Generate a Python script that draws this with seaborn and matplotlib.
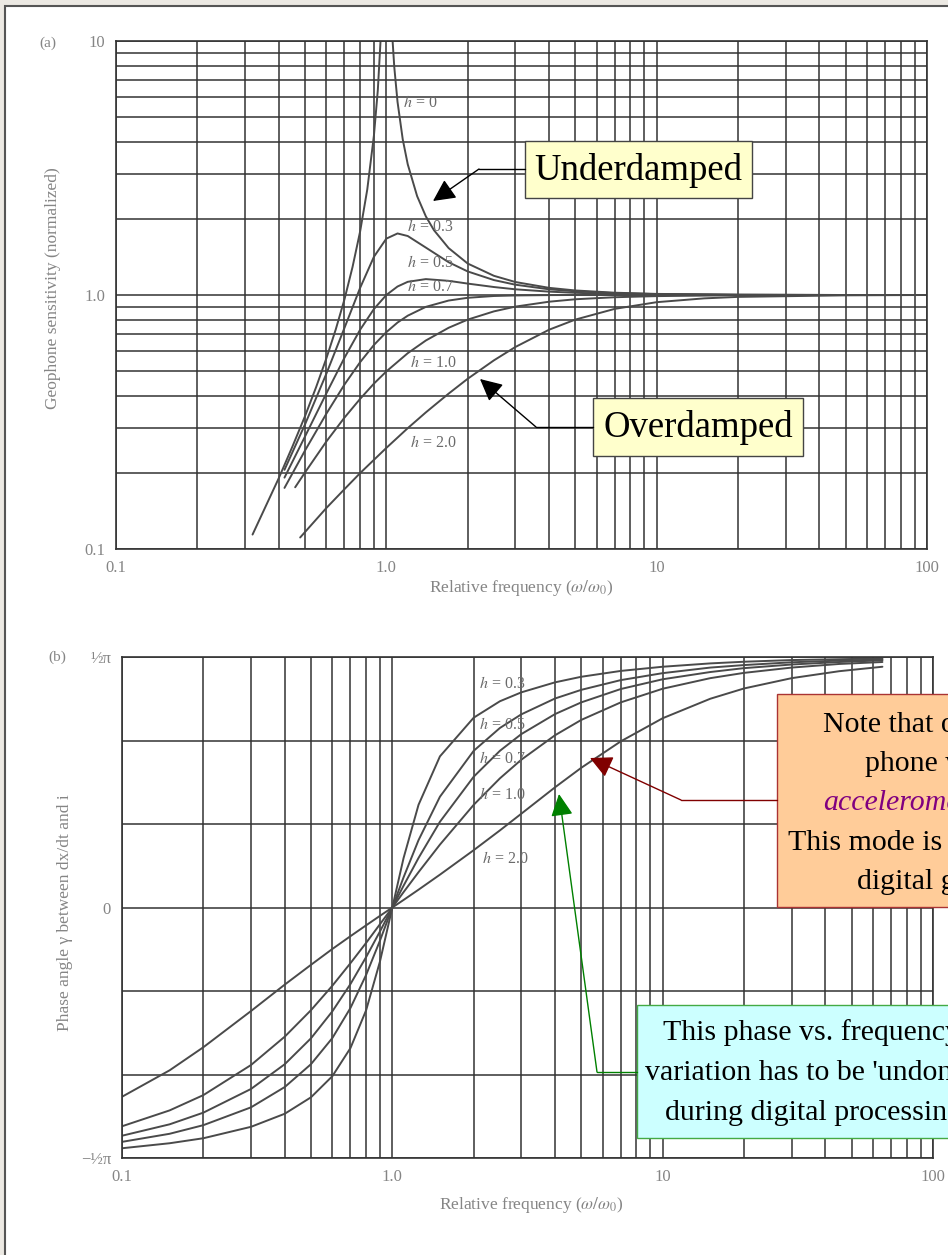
import matplotlib
matplotlib.use('Agg')
import matplotlib.pyplot as plt
from matplotlib.patches import Rectangle
from matplotlib.ticker import FixedLocator, LogLocator, NullFormatter
import pandas as pd
import seaborn as sns

# ---- (a) geophone sensitivity vs relative frequency ----
h0_low_x = [0.32, 0.4, 0.45, 0.5, 0.55, 0.6, 0.65, 0.7, 0.75, 0.8, 0.85, 0.9, 0.93, 0.96]
h0_low_y = [0.114, 0.19, 0.254, 0.333, 0.434, 0.563, 0.732, 0.961, 1.29, 1.78, 2.6, 4.26, 6.4, 11.8]
h0_high_x = [1.05, 1.07, 1.1, 1.15, 1.2, 1.3, 1.4, 1.5, 1.7, 2, 2.5, 3, 4, 5, 7, 10, 20, 50, 100]
h0_high_y = [10.8, 7.9, 5.76, 4.1, 3.27, 2.45, 2.04, 1.8, 1.53, 1.33, 1.19, 1.125, 1.067, 1.042,
             1.021, 1.01, 1.003, 1.0, 1.0]

sens_x = [0.42, 0.5, 0.6, 0.7, 0.8, 0.9, 1.0, 1.1, 1.2, 1.4, 1.7, 2, 2.5, 3, 4, 5, 7, 10, 20, 50, 100]
h03_y = [0.205, 0.309, 0.49, 0.742, 1.067, 1.415, 1.667, 1.747, 1.707, 1.537, 1.346, 1.238,
         1.145, 1.098, 1.053, 1.034, 1.017, 1.008, 1.002, 1.0, 1.0]
h05_y = [0.191, 0.277, 0.41, 0.566, 0.73, 0.881, 1.0, 1.08, 1.127, 1.155, 1.137, 1.109,
         1.075, 1.053, 1.031, 1.02, 1.01, 1.005, 1.001, 1.0, 1.0]
h07_y = [0.174, 0.244, 0.341, 0.444, 0.544, 0.636, 0.714, 0.779, 0.829, 0.898, 0.951, 0.975,
         0.991, 0.996, 0.999, 1.0, 1.0, 1.0, 1.0, 1.0, 1.0]
h10_x = [0.46, 0.5, 0.6, 0.7, 0.8, 0.9, 1.0, 1.2, 1.4, 1.7, 2, 2.5, 3, 4, 5, 7, 10, 20, 50, 100]
h10_y = [0.175, 0.2, 0.265, 0.329, 0.39, 0.448, 0.5, 0.59, 0.662, 0.743, 0.8, 0.862, 0.9,
         0.941, 0.962, 0.98, 0.99, 0.998, 1.0, 1.0]
h20_x = [0.48, 0.6, 0.7, 0.8, 1.0, 1.2, 1.4, 1.7, 2, 2.5, 3, 4, 5, 7, 10, 15, 20, 50, 100]
h20_y = [0.111, 0.145, 0.172, 0.199, 0.25, 0.299, 0.345, 0.409, 0.468, 0.553, 0.624, 0.73,
         0.8, 0.882, 0.937, 0.97, 0.983, 0.997, 1.0]

sens_labels = ['h = 0', 'h = 0.3', 'h = 0.5', 'h = 0.7', 'h = 1.0', 'h = 2.0']
sens_label_x = [1.33, 1.45, 1.45, 1.45, 1.49, 1.49]
sens_label_y = [5.7, 1.85, 1.34, 1.075, 0.54, 0.261]

# ---- (b) phase angle (degrees, -90 = -pi/2) ----
phase_x = [0.1, 0.15, 0.2, 0.3, 0.4, 0.5, 0.6, 0.7, 0.8, 0.9, 1.0, 1.1, 1.25, 1.5, 2, 2.5, 3,
           4, 5, 7, 10, 15, 20, 30, 45, 65]
ph03 = [-86.5, -84.7, -82.9, -78.8, -74.1, -68.2, -60.6, -50.5, -36.9, -19.4, 0, 17.7, 36.9,
        54.3, 68.2, 74.1, 77.3, 80.9, 82.9, 85.0, 86.5, 87.7, 88.3, 88.9, 89.2, 89.5]
ph05 = [-84.2, -81.3, -78.2, -71.8, -64.5, -56.3, -46.9, -36.1, -24.2, -11.9, 0, 10.8, 24.2,
        39.8, 56.3, 64.5, 69.4, 75.1, 78.2, 81.7, 84.2, 86.2, 87.1, 88.1, 88.7, 89.1]
ph07 = [-82.0, -77.9, -73.7, -65.2, -56.3, -47.0, -37.3, -27.5, -17.8, -8.6, 0, 7.8, 17.8,
        30.8, 47.0, 56.3, 62.3, 69.5, 73.7, 78.5, 82.0, 84.6, 86.0, 87.3, 88.2, 88.8]
ph10 = [-78.6, -72.9, -67.4, -56.6, -46.4, -36.9, -28.1, -20.0, -12.7, -6.0, 0, 5.5, 12.7,
        22.6, 36.9, 46.4, 53.1, 61.9, 67.4, 73.7, 78.6, 82.4, 84.3, 86.2, 87.5, 88.2]
ph20 = [-68.0, -58.5, -50.2, -37.2, -27.7, -20.6, -14.9, -10.3, -6.4, -3.0, 0, 2.7, 6.4,
        11.8, 20.6, 27.7, 33.7, 43.2, 50.2, 59.7, 68.0, 75.0, 78.7, 82.4, 84.9, 86.5]

phase_labels = ['h = 0.3', 'h = 0.5', 'h = 0.7', 'h = 1.0', 'h = 2.0']
phase_label_x = [2.55, 2.55, 2.55, 2.56, 2.61]
phase_label_y = [80.3, 65.6, 53.4, 40.4, 17.4]
phase_ticks = [-90, -60, -30, 0, 30, 60, 90]
phase_ticklabels = ['−½π', '', '', '0', '', '', '½π']


def long_frame(series):
    rows = []
    for name, xs, ys in series:
        rows += [(name, x, y) for x, y in zip(xs, ys)]
    return pd.DataFrame(rows, columns=['curve', 'x', 'y'])


df_a = long_frame([('h0a', h0_low_x, h0_low_y), ('h0b', h0_high_x, h0_high_y),
                   ('h03', sens_x, h03_y), ('h05', sens_x, h05_y), ('h07', sens_x, h07_y),
                   ('h10', h10_x, h10_y), ('h20', h20_x, h20_y)])
df_b = long_frame([('h03', phase_x, ph03), ('h05', phase_x, ph05), ('h07', phase_x, ph07),
                   ('h10', phase_x, ph10), ('h20', phase_x, ph20)])

sns.set_style('white')
plt.rcParams['font.family'] = ['Liberation Serif', 'DejaVu Serif']
plt.rcParams['mathtext.fontset'] = 'stix'

W, H = 948, 1255
GRID = '#333333'
CURVE = '#4a4a4a'
GREY_TXT = '#858585'

fig = plt.figure(figsize=(W / 100, H / 100), dpi=100)
fig.patch.set_facecolor('#ece9e3')


def px_axes(left, top, right, bottom, **kw):
    return fig.add_axes([left / W, 1 - bottom / H, (right - left) / W, (bottom - top) / H], **kw)


bg = px_axes(0, 0, W, H, zorder=-5)
bg.set_xlim(0, W)
bg.set_ylim(H, 0)
bg.axis('off')
bg.add_patch(Rectangle((5, 6), W, H, facecolor='white', edgecolor='#555555', lw=1.5))


def style_axes(ax):
    ax.set_xscale('log')
    ax.set_xlim(0.1, 100)
    ax.xaxis.set_major_locator(FixedLocator([0.1, 1, 10, 100]))
    ax.xaxis.set_minor_locator(LogLocator(base=10, subs=range(2, 10), numticks=20))
    ax.xaxis.set_minor_formatter(NullFormatter())
    ax.set_xticks([0.1, 1, 10, 100], ['0.1', '1.0', '10', '100'])
    ax.grid(True, which='both', color=GRID, lw=1.1)
    ax.tick_params(which='both', length=0, labelcolor=GREY_TXT, labelsize=12, pad=8)
    for sp in ax.spines.values():
        sp.set_color(GRID)
        sp.set_linewidth(1.2)
    ax.set_xlabel(r'Relative frequency ($\omega/\omega_0$)', color=GREY_TXT, fontsize=12.5)


# (a) sensitivity
ax1 = px_axes(116, 41, 927, 549)
sns.lineplot(data=df_a, x='x', y='y', units='curve', estimator=None, sort=False,
             color=CURVE, lw=1.4, legend=False, ax=ax1)
style_axes(ax1)
ax1.set_yscale('log')
ax1.set_ylim(0.1, 10)
ax1.yaxis.set_minor_formatter(NullFormatter())
ax1.set_yticks([0.1, 1, 10], ['0.1', '1.0', '10'])
ax1.tick_params(which='both', length=0, labelcolor=GREY_TXT, labelsize=12, pad=8)
ax1.grid(True, which='both', color=GRID, lw=1.1)
ax1.set_ylabel('Geophone sensitivity (normalized)', color=GREY_TXT, fontsize=12.5)
ax1.xaxis.set_label_coords(0.5, -0.077)
ax1.xaxis.label.set_va('center')
ax1.yaxis.set_label_coords(-0.078, 0.514)
ax1.yaxis.label.set_va('center')
for lab, lx, ly in zip(sens_labels, sens_label_x, sens_label_y):
    ax1.text(lx, ly, lab.replace('h', '$h$'), ha='center', va='center', color='#6a6a6a',
             fontsize=11.5)

# (b) phase
ax2 = px_axes(122, 657, 933, 1158)
sns.lineplot(data=df_b, x='x', y='y', units='curve', estimator=None, sort=False,
             color=CURVE, lw=1.4, legend=False, ax=ax2)
style_axes(ax2)
ax2.set_ylim(-90, 90)
ax2.set_yticks(phase_ticks, phase_ticklabels)
ax2.set_ylabel('Phase angle γ between dx/dt and i', color=GREY_TXT, fontsize=12.5)
ax2.xaxis.set_label_coords(0.504, -0.094)
ax2.xaxis.label.set_va('center')
ax2.yaxis.set_label_coords(-0.07, 0.49)
ax2.yaxis.label.set_va('center')
for lab, lx, ly in zip(phase_labels, phase_label_x, phase_label_y):
    ax2.text(lx, ly, lab.replace('h', '$h$'), ha='center', va='center', color='#6a6a6a',
             fontsize=11.5)

# overlay for panel letters and call-outs (pixel coordinates)
ov = px_axes(0, 0, W, H, zorder=10)
ov.set_xlim(0, W)
ov.set_ylim(H, 0)
ov.axis('off')
ov.text(48, 43, '(a)', ha='center', va='center', color=GREY_TXT, fontsize=11)
ov.text(57, 657, '(b)', ha='center', va='center', color=GREY_TXT, fontsize=11)


def leader(box_x, corner, tip, color):
    ov.plot([box_x, corner[0]], [corner[1], corner[1]], color=color, lw=1)
    ov.annotate('', xy=tip, xytext=corner,
                arrowprops=dict(arrowstyle='-|>', color=color, lw=1, mutation_scale=34,
                                shrinkA=0, shrinkB=0))


# Underdamped
ov.add_patch(Rectangle((525, 141), 227, 57, facecolor='#ffffcc', edgecolor='#444444', lw=1))
ov.text(638, 180, 'Underdamped', ha='center', va='baseline', fontsize=26.5, color='black')
leader(525, (479, 169), (433, 201), 'black')

# Overdamped
ov.add_patch(Rectangle((593, 398), 210, 58, facecolor='#ffffcc', edgecolor='#444444', lw=1))
ov.text(698, 437, 'Overdamped', ha='center', va='baseline', fontsize=26.5, color='black')
leader(593, (536, 427), (480, 379), 'black')

# accelerometer note
ov.add_patch(Rectangle((777, 694), 400, 213, facecolor='#ffcc99', edgecolor='#aa3333', lw=1))
note_lines = [('Note that overdamped geo-', 823, 732, 'black', 'normal'),
              ('phone works as an', 865, 771, 'black', 'normal'),
              ('accelerometer.', 823, 810, '#800080', 'italic'),
              ('This mode is used in modern', 788, 850, 'black', 'normal'),
              ('digital geophones.', 857, 889, 'black', 'normal')]
for txt, tx, ty, col, sty in note_lines:
    ov.text(tx, ty, txt, ha='left', va='baseline', fontsize=21.5, color=col, style=sty)
leader(777, (681, 800), (590, 758), '#800000')

# phase note
ov.add_patch(Rectangle((637, 1005), 400, 133, facecolor='#ccffff', edgecolor='#44aa44', lw=1))
phase_note = [('This phase vs. frequency', 663, 1040),
              ("variation has to be 'undone'", 645, 1080),
              ('during digital processing.', 665, 1120)]
for txt, tx, ty in phase_note:
    ov.text(tx, ty, txt, ha='left', va='baseline', fontsize=21.5, color='black')
leader(637, (597, 1072), (559, 794), '#008000')

fig.savefig('out.png', dpi=100)
